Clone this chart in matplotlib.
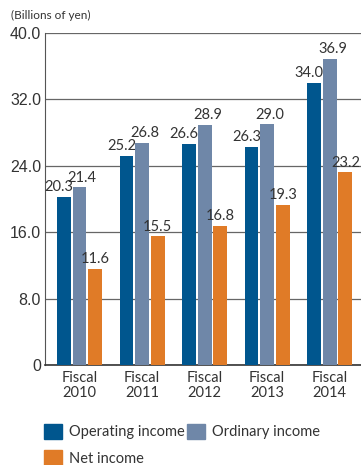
import matplotlib
matplotlib.use("Agg")
import matplotlib.pyplot as plt
import numpy as np
from matplotlib.patches import Patch

years = ["Fiscal\n2010", "Fiscal\n2011", "Fiscal\n2012", "Fiscal\n2013", "Fiscal\n2014"]
operating_income = [20.3, 25.2, 26.6, 26.3, 34.0]
ordinary_income = [21.4, 26.8, 28.9, 29.0, 36.9]
net_income = [11.6, 15.5, 16.8, 19.3, 23.2]
yticks = [0, 8, 16, 24, 32, 40]
ytick_labels = ["0", "8.0", "16.0", "24.0", "32.0", "40.0"]

BLUE = "#00568e"
GREY = "#6f87a8"
ORANGE = "#e07b27"
TEXT = "#333333"

plt.rcParams["font.family"] = ["Lato", "DejaVu Sans"]

fig = plt.figure(figsize=(3.61, 4.65), dpi=100)
ax = fig.add_axes([0.125, 0.215, 0.875, 0.714])

x = np.arange(len(years))
width = 0.22
step = 0.25
# (values, colour, name, label x-offset in points so neighbours don't collide)
series = [
    (operating_income, BLUE, "Operating income", -3.5),
    (ordinary_income, GREY, "Ordinary income", 2.0),
    (net_income, ORANGE, "Net income", 0.0),
]
for i, (vals, color, name, dx) in enumerate(series):
    pos = x + (i - 1) * step
    bars = ax.bar(pos, vals, width=width, color=color, zorder=3)
    for b, v in zip(bars, vals):
        ax.annotate(f"{v:.1f}", (b.get_x() + b.get_width() / 2, v),
                    xytext=(dx, 2), textcoords="offset points",
                    ha="center", va="bottom", fontsize=10.5, color=TEXT)

ax.set_xlim(-0.55, 4.5)
ax.set_ylim(0, 40)
ax.set_yticks(yticks)
ax.set_yticklabels(ytick_labels, fontsize=11.5, color=TEXT,
                   family=["Liberation Sans", "DejaVu Sans"])
ax.set_xticks(x)
ax.set_xticklabels(years, fontsize=10.5, color=TEXT, linespacing=1.15)
ax.tick_params(length=0, pad=3)
ax.tick_params(axis="x", pad=4)
ax.grid(axis="y", color="#666666", linewidth=0.9, zorder=0)
for side in ["top", "right"]:
    ax.spines[side].set_visible(False)
ax.spines["left"].set_color("#555555")
ax.spines["bottom"].set_color("#333333")
ax.spines["bottom"].set_linewidth(1.2)

fig.text(0.03, 0.96, "(Billions of yen)", fontsize=8.5, color=TEXT)

handles = [Patch(color=c, label=n) for _, c, n, _ in series]
fig.legend([handles[0], handles[2], handles[1]],
           [handles[0].get_label(), handles[2].get_label(), handles[1].get_label()],
           ncol=2, loc="lower left", bbox_to_anchor=(0.085, -0.03),
           frameon=False, fontsize=10.5, handlelength=1.25, handleheight=1.25,
           handletextpad=0.45, columnspacing=0.2, labelspacing=0.75,
           labelcolor=TEXT)

fig.savefig("out.png", dpi=100)
